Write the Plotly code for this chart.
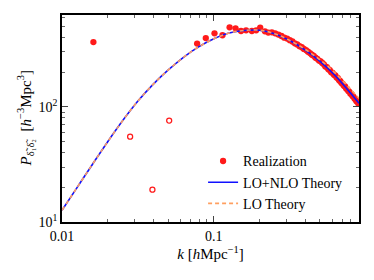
import plotly.graph_objects as go

# ---- data ----
# Realization (positive values, filled markers)
k_real = [0.0161, 0.0776, 0.0885, 0.101, 0.114, 0.127, 0.139, 0.151, 0.163, 0.178,
          0.190, 0.202, 0.217, 0.2284, 0.2410, 0.2535, 0.2661, 0.2787, 0.2912, 0.3038,
          0.3164, 0.3290, 0.3415, 0.3541, 0.3667, 0.3792, 0.3918, 0.4044, 0.4169, 0.4295,
          0.4421, 0.4546, 0.4672, 0.4798, 0.4924, 0.5049, 0.5175, 0.5301, 0.5426, 0.5552,
          0.5678, 0.5803, 0.5929, 0.6055, 0.6180, 0.6306, 0.6432, 0.6557, 0.6683, 0.6809,
          0.6934, 0.7060, 0.7186, 0.7311, 0.7437, 0.7563, 0.7688, 0.7814, 0.7940, 0.8065,
          0.8191, 0.8317, 0.8442, 0.8568, 0.8694, 0.8819, 0.8945]
p_real = [365, 354, 395, 434, 418, 490, 480, 455, 461, 455,
          461, 487, 452, 441, 443, 434, 424, 412, 398, 391,
          379, 369, 356, 348, 336, 329, 318, 311, 301, 293,
          283, 277, 267, 261, 252, 248, 240, 234, 224, 221,
          212, 208, 200, 197, 190, 187, 180, 177, 170, 167,
          161, 158, 152, 150, 144, 142, 137, 135, 130, 129,
          124, 122, 118, 116, 112, 111, 107]

# Realization (negative values, plotted as |P|, open markers)
k_neg = [0.0281, 0.0394, 0.0508]
p_neg = [55.1, 19.1, 75.9]

# Theory curves
k_th = [0.01, 0.01259, 0.01585, 0.01995, 0.02512, 0.03162, 0.03981, 0.05012, 0.0631,
        0.0794, 0.1, 0.1259, 0.1585, 0.1995, 0.2512, 0.3162, 0.3981, 0.5012, 0.631,
        0.794, 0.903]
p_nlo = [12.65, 20.0, 31.6, 49.5, 75.9, 112.2, 156.7, 208.9, 269.2,
         331.1, 389.0, 436.5, 460.3, 462.4, 431.5, 375.8, 312.6, 248.3, 186.2,
         131.8, 107.2]
p_lo = [12.65, 20.0, 31.6, 49.5, 75.9, 112.2, 156.7, 208.9, 269.2,
        331.1, 389.0, 436.5, 460.3, 462.4, 431.5, 376.5, 316.0, 255.0, 195.8,
        142.5, 118.5]

x_tickvals = [0.01, 0.1]
x_ticktext = ["0.01", "0.1"]
y_tickvals = [10, 100]
y_ticktext = ["10<sup>1</sup>", "10<sup>2</sup>"]
x_minor = [0.02, 0.03, 0.04, 0.05, 0.06, 0.07, 0.08, 0.09,
           0.2, 0.3, 0.4, 0.5, 0.6, 0.7, 0.8, 0.9]
y_minor = [20, 30, 40, 50, 60, 70, 80, 90, 200, 300, 400, 500, 600]

FONT = "Liberation Serif, DejaVu Serif, serif"

fig = go.Figure()
fig.add_trace(go.Scatter(
    x=k_real, y=p_real, mode="markers", name="Realization",
    marker=dict(color="#ff1a1a", size=6.3, line=dict(width=0))))
fig.add_trace(go.Scatter(
    x=k_neg, y=p_neg, mode="markers", showlegend=False,
    marker=dict(symbol="circle-open", color="#ff1a1a", size=5, line=dict(width=1.3))))
fig.add_trace(go.Scatter(
    x=k_th, y=p_nlo, mode="lines", name="LO+NLO Theory", line_shape="spline",
    line=dict(color="#1010ff", width=1.6)))
fig.add_trace(go.Scatter(
    x=k_th, y=p_lo, mode="lines", name="LO Theory", line_shape="spline",
    line=dict(color="#ff9f60", width=1.6, dash="4px,3px")))

axis_common = dict(
    showline=True, linecolor="black", linewidth=1.5, mirror="allticks",
    ticks="inside", ticklen=6, tickwidth=1, tickcolor="#444",
    showgrid=False, zeroline=False, automargin=False,
    tickfont=dict(family=FONT, size=14, color="black"),
)

fig.update_xaxes(
    type="log", range=[-2, -0.044],
    tickmode="array", tickvals=x_tickvals, ticktext=x_ticktext,
    minor=dict(ticks="inside", ticklen=3, tickcolor="#666", tickmode="array",
               tickvals=x_minor, showgrid=False),
    title=dict(text="<i>k</i> [<i>h</i>Mpc<sup>−1</sup>]",
               font=dict(family=FONT, size=15, color="black"), standoff=4),
    **axis_common)
fig.update_yaxes(
    type="log", range=[1, 2.797],
    tickmode="array", tickvals=y_tickvals, ticktext=y_ticktext,
    minor=dict(ticks="inside", ticklen=3, tickcolor="#666", tickmode="array",
               tickvals=y_minor, showgrid=False),
    **axis_common)

fig.add_annotation(
    text="<i>P</i><sub>δ̃₁δ̃₂</sub>  [<i>h</i><sup>−3</sup>Mpc<sup>3</sup>]",
    xref="paper", yref="paper", x=-0.125, y=0.5, xanchor="center", yanchor="middle",
    textangle=-90, showarrow=False,
    font=dict(family=FONT, size=15, color="black"))

# the page body has an 8px default margin, so the figure is sized to fit inside it
fig.update_layout(
    width=358, height=264,
    margin=dict(l=54, r=7, t=7, b=50),
    paper_bgcolor="white", plot_bgcolor="white",
    font=dict(family=FONT, size=14, color="black"),
    legend=dict(x=0.475, y=0.37, xanchor="left", yanchor="top",
                bgcolor="rgba(0,0,0,0)", borderwidth=0,
                font=dict(family=FONT, size=14, color="black"),
                traceorder="normal"),
)

fig.write_html("out.html")
